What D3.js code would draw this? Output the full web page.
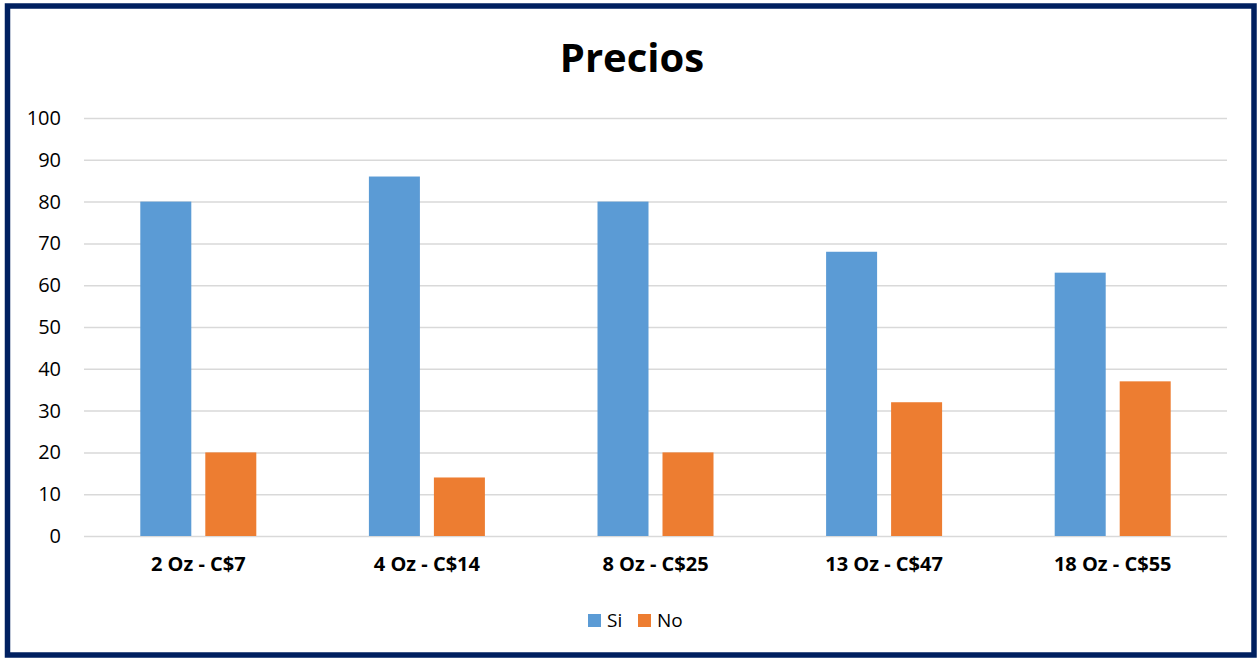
<!DOCTYPE html>
<html>
<head>
<meta charset="utf-8">
<script src="https://cdn.jsdelivr.net/npm/d3@7"></script>
<style>
  body { margin: 0; background: #fff; }
  svg { display: block; font-family: "Open Sans", "Noto Sans", sans-serif; }
</style>
</head>
<body>
<svg id="chart"></svg>
<script>
// chart data
const categories = ['2 Oz - C$7', '4 Oz - C$14', '8 Oz - C$25', '13 Oz - C$47', '18 Oz - C$55'];
const seriesNames = ['Si', 'No'];
const siValues = [80, 86, 80, 68, 63];
const noValues = [20, 14, 20, 32, 37];
const yTicks = [0, 10, 20, 30, 40, 50, 60, 70, 80, 90, 100];

const colors = {Si: '#5b9bd5', No: '#ed7d31'};

const width = 1259, height = 658;
const margin = {top: 118, right: 32, bottom: 122, left: 84};
const innerW = width - margin.left - margin.right;
const innerH = height - margin.top - margin.bottom;

const svg = d3.select('#chart')
    .attr('width', width)
    .attr('height', height);

// outer frame
svg.append('rect')
    .attr('x', 7.5)
    .attr('y', 6)
    .attr('width', width - 12.5)
    .attr('height', height - 9)
    .attr('fill', '#fff')
    .attr('stroke', '#002060')
    .attr('stroke-width', 5.5);

svg.append('text')
    .attr('x', 632)
    .attr('y', 72)
    .attr('text-anchor', 'middle')
    .attr('font-size', 40)
    .attr('font-weight', 'bold')
    .attr('fill', '#000')
    .text('Precios');

const chart = svg.append('g')
    .attr('transform', `translate(${margin.left},${margin.top})`);

const x0 = d3.scaleBand()
    .domain(categories)
    .range([0, innerW]);

const yScale = d3.scaleLinear()
    .domain([0, 100])
    .range([innerH, 0]);

// gridlines
const yAxis = d3.axisLeft(yScale)
    .tickValues(yTicks)
    .tickSize(-innerW)
    .tickPadding(23);

chart.append('g')
    .attr('class', 'y-axis')
    .call(yAxis)
    .call(g => g.select('.domain').remove())
    .call(g => g.selectAll('.tick line').attr('stroke', '#d9d9d9').attr('stroke-width', 1.5))
    .call(g => g.selectAll('.tick text')
        .attr('font-size', 20)
        .attr('fill', '#000')
        .attr('font-family', '"Open Sans", "Noto Sans", sans-serif'));

// bars
const rows = categories.map((c, i) => ({cat: c, Si: siValues[i], No: noValues[i]}));
const barW = 51, gap = 14;

const groups = chart.selectAll('.cat')
    .data(rows)
    .join('g')
    .attr('class', 'cat')
    .attr('transform', d => `translate(${x0(d.cat) + x0.bandwidth() / 2},0)`);

groups.selectAll('rect')
    .data(d => seriesNames.map((s, j) => ({series: s, value: d[s], j: j})))
    .join('rect')
    .attr('x', d => d.j === 0 ? -gap / 2 - barW : gap / 2)
    .attr('y', d => yScale(d.value))
    .attr('width', barW)
    .attr('height', d => innerH - yScale(d.value))
    .attr('fill', d => colors[d.series]);

// x axis labels
const xAxis = d3.axisBottom(x0).tickSize(0).tickPadding(21);
chart.append('g')
    .attr('transform', `translate(0,${innerH})`)
    .call(xAxis)
    .call(g => g.select('.domain').remove())
    .call(g => g.selectAll('.tick text')
        .attr('font-size', 20)
        .attr('font-weight', 'bold')
        .attr('fill', '#000')
        .attr('font-family', '"Open Sans", "Noto Sans", sans-serif'));

// legend
const legend = svg.append('g').attr('transform', 'translate(588,614)');
const legendX = [0, 50];
seriesNames.forEach((s, i) => {
    const item = legend.append('g').attr('transform', `translate(${legendX[i]},0)`);
    item.append('rect')
        .attr('width', 13)
        .attr('height', 13)
        .attr('fill', colors[s]);
    item.append('text')
        .attr('x', 19)
        .attr('y', 13)
        .attr('font-size', 19)
        .attr('fill', '#000')
        .text(s);
});
</script>
</body>
</html>
